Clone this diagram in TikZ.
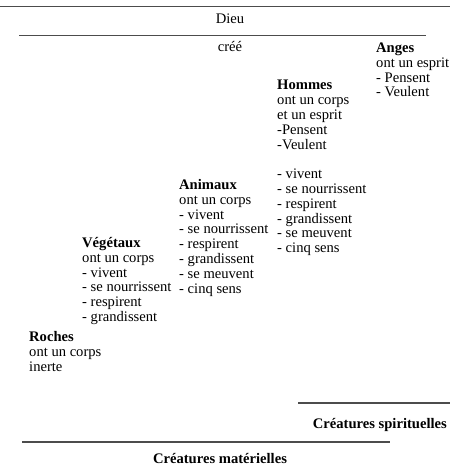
\documentclass[tikz,border=0pt]{standalone}
\usepackage{fontspec}
\setmainfont{Liberation Serif}
\begin{document}
\begin{tikzpicture}[x=1pt, y=-1pt,
  txt/.style={inner sep=0pt, anchor=base west, font=\fontsize{14.6}{14.8}\selectfont},
  ctr/.style={inner sep=0pt, anchor=base, font=\fontsize{14.6}{14.8}\selectfont},
  rgt/.style={inner sep=0pt, anchor=base east, font=\fontsize{14.6}{14.8}\selectfont},
  rule/.style={draw=black!70, line width=1.9pt}]
\useasboundingbox (0,0) rectangle (450,465);
\newcommand{\lst}[1]{\begin{tabular}[t]{@{}l@{}}#1\end{tabular}}

% separators
\draw[rule] (0,6.5) -- (450,6.5);
\draw[rule] (19,35.5) -- (426,35.5);
\draw[rule] (298,403) -- (450,403);
\draw[rule] (22,442) -- (390,442);

% headings
\node[ctr] (dieu) at (230,24) {Dieu};
\node[ctr] (cree) at (230,51.5) {créé};

% the steps of creation
\node[txt] (anges) at (376,52.5) {\lst{\textbf{Anges}\\ont un esprit\\- Pensent\\- Veulent}};
\node[txt] (hommes) at (277,90) {\lst{\textbf{Hommes}\\ont un corps\\et un esprit\\-Pensent\\-Veulent\\ \\- vivent\\- se nourrissent\\- respirent\\- grandissent\\- se meuvent\\- cinq sens}};
\node[txt] (animaux) at (179,189.5) {\lst{\textbf{Animaux}\\ont un corps\\- vivent\\- se nourrissent\\- respirent\\- grandissent\\- se meuvent\\- cinq sens}};
\node[txt] (vegetaux) at (82,247.5) {\lst{\textbf{Végétaux}\\ont un corps\\- vivent\\- se nourrissent\\- respirent\\- grandissent}};
\node[txt] (roches) at (29,341.5) {\lst{\textbf{Roches}\\ont un corps\\inerte}};

% categories
\node[rgt] (spirit) at (447,428) {\textbf{Créatures spirituelles}};
\node[ctr] (mater) at (220,463) {\textbf{Créatures matérielles}};
\end{tikzpicture}
\end{document}
